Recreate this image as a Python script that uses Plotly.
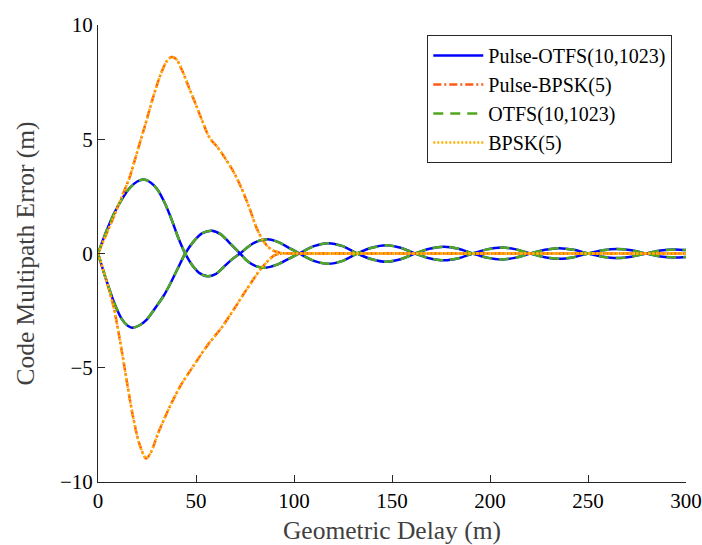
import plotly.graph_objects as go

# Geometric delay samples (m) and code multipath error (m) for each receiver model
otfs_delay_pos = [0, 4, 8, 12, 16, 20, 23.5, 27, 30.5, 34, 37.5, 41, 44.5, 48, 52, 56, 60, 64, 68,
                  72.5, 77, 81, 86.5, 92, 97, 102.7, 110.1, 117.45, 124.8, 132.2, 139.6, 147, 154.4,
                  161.8, 169.1, 176.5, 183.9, 191.2, 198.5, 205.9, 213.2, 220.6, 228, 235.35, 242.7,
                  250.1, 257.5, 264.85, 272.2, 279.6, 287, 294.35, 300]
pulse_otfs_pos = [0, 0.92, 1.72, 2.35, 2.85, 3.15, 3.24, 3.1, 2.78, 2.22, 1.5, 0.68, 0, -0.5, -0.87,
                  -1.0, -0.9, -0.6, -0.28, 0, 0.32, 0.52, 0.62, 0.5, 0.27, 0, -0.32, -0.45, -0.32, 0,
                  0.25, 0.36, 0.25, 0, -0.21, -0.3, -0.21, 0, 0.18, 0.26, 0.18, 0, -0.16, -0.23, -0.16,
                  0, 0.14, 0.2, 0.14, 0, -0.13, -0.18, -0.15]
otfs_delay_neg = [0, 4, 8, 12, 15, 17.5, 21, 25, 29.5, 33.5, 37, 41, 44.5, 48.5, 53, 58, 62.5, 67,
                  72.5, 76.5, 80.5, 85.5, 91, 96.5, 102.7, 110.1, 117.45, 124.8, 132.2, 139.6, 147,
                  154.4, 161.8, 169.1, 176.5, 183.9, 191.2, 198.5, 205.9, 213.2, 220.6, 228, 235.35,
                  242.7, 250.1, 257.5, 264.85, 272.2, 279.6, 287, 294.35, 300]
pulse_otfs_neg = [0, -1.1, -2.1, -2.85, -3.15, -3.25, -3.15, -2.88, -2.35, -1.85, -1.3, -0.6, 0, 0.5,
                  0.88, 1.0, 0.85, 0.48, 0, -0.35, -0.55, -0.62, -0.5, -0.27, 0, 0.32, 0.45, 0.32, 0,
                  -0.25, -0.36, -0.25, 0, 0.21, 0.3, 0.21, 0, -0.18, -0.26, -0.18, 0, 0.16, 0.23, 0.16,
                  0, -0.14, -0.2, -0.14, 0, 0.13, 0.18, 0.15]
otfs_pos = [0, 0.92, 1.72, 2.35, 2.85, 3.15, 3.24, 3.1, 2.78, 2.22, 1.5, 0.68, 0, -0.5, -0.87,
            -1.0, -0.9, -0.6, -0.28, 0, 0.32, 0.52, 0.62, 0.5, 0.27, 0, -0.32, -0.45, -0.32, 0,
            0.25, 0.36, 0.25, 0, -0.21, -0.3, -0.21, 0, 0.18, 0.26, 0.18, 0, -0.16, -0.23, -0.16,
            0, 0.14, 0.2, 0.14, 0, -0.13, -0.18, -0.15]
otfs_neg = [0, -1.1, -2.1, -2.85, -3.15, -3.25, -3.15, -2.88, -2.35, -1.85, -1.3, -0.6, 0, 0.5,
            0.88, 1.0, 0.85, 0.48, 0, -0.35, -0.55, -0.62, -0.5, -0.27, 0, 0.32, 0.45, 0.32, 0,
            -0.25, -0.36, -0.25, 0, 0.21, 0.3, 0.21, 0, -0.18, -0.26, -0.18, 0, 0.16, 0.23, 0.16,
            0, -0.14, -0.2, -0.14, 0, 0.13, 0.18, 0.15]

bpsk_delay_pos = [0, 4, 8, 12, 16, 20, 24, 28, 32, 35, 37.5, 40, 43, 46, 50, 53, 57, 61, 65, 69, 73,
                  77, 81, 84, 87, 90, 94, 100, 150, 200, 250, 300]
pulse_bpsk_pos = [0, 0.8, 1.6, 2.45, 3.3, 4.45, 5.6, 6.8, 7.85, 8.4, 8.6, 8.5, 8.0, 7.35, 6.5, 5.85,
                  5.05, 4.65, 4.15, 3.6, 2.9, 2.05, 1.1, 0.6, 0.27, 0.1, 0.02, 0, 0, 0, 0, 0]
bpsk_delay_neg = [0, 4, 8, 12, 15, 18, 21, 24.5, 27, 30.5, 34, 37.5, 42, 49, 56, 63, 69.5, 76, 83,
                  87, 90, 94, 100, 150, 200, 250, 300]
pulse_bpsk_neg = [0, -1.1, -2.35, -4.2, -5.75, -7.2, -8.3, -8.97, -8.7, -7.9, -7.2, -6.55, -5.8,
                  -4.88, -4.0, -3.25, -2.42, -1.55, -0.68, -0.3, -0.08, 0, 0, 0, 0, 0, 0]
bpsk_pos = [0, 0.8, 1.6, 2.45, 3.3, 4.45, 5.6, 6.8, 7.85, 8.4, 8.6, 8.5, 8.0, 7.35, 6.5, 5.85,
            5.05, 4.65, 4.15, 3.6, 2.9, 2.05, 1.1, 0.6, 0.27, 0.1, 0.02, 0, 0, 0, 0, 0]
bpsk_neg = [0, -1.1, -2.35, -4.2, -5.75, -7.2, -8.3, -8.97, -8.7, -7.9, -7.2, -6.55, -5.8,
            -4.88, -4.0, -3.25, -2.42, -1.55, -0.68, -0.3, -0.08, 0, 0, 0, 0, 0, 0]

series_names = ["Pulse-OTFS(10,1023)", "Pulse-BPSK(5)", "OTFS(10,1023)", "BPSK(5)"]
x_ticks = [0, 50, 100, 150, 200, 250, 300]
y_ticks = [-10, -5, 0, 5, 10]

SERIF = "'Liberation Serif', 'Times New Roman', serif"


def envelope(xp, yp, xn, yn):
    # positive and negative multipath branches joined with a gap
    return list(xp) + [None] + list(xn), list(yp) + [None] + list(yn)


styles = [
    dict(color="#0000FF", width=2.5, dash="solid"),
    dict(color="#FF5A14", width=2.5, dash="8px,3px,2px,3px"),
    dict(color="#4FA81E", width=2.5, dash="10px,7px"),
    dict(color="#FFB000", width=2.5, dash="2px,2px"),
]
curves = [
    envelope(otfs_delay_pos, pulse_otfs_pos, otfs_delay_neg, pulse_otfs_neg),
    envelope(bpsk_delay_pos, pulse_bpsk_pos, bpsk_delay_neg, pulse_bpsk_neg),
    envelope(otfs_delay_pos, otfs_pos, otfs_delay_neg, otfs_neg),
    envelope(bpsk_delay_pos, bpsk_pos, bpsk_delay_neg, bpsk_neg),
]

fig = go.Figure()
for name, (xs, ys), st in zip(series_names, curves, styles):
    fig.add_trace(go.Scatter(x=xs, y=ys, mode="lines", name=name,
                             line=dict(shape="spline", smoothing=0.8, **st)))

fig.update_layout(
    width=702, height=545,
    margin=dict(l=97.5, r=16, t=25, b=62.5, autoexpand=False),
    paper_bgcolor="white", plot_bgcolor="white",
    font=dict(family=SERIF, size=21, color="#000000"),
    showlegend=True,
    legend=dict(
        x=0.56, y=0.978, xanchor="left", yanchor="top",
        bgcolor="white", bordercolor="#262626", borderwidth=1,
        font=dict(family=SERIF, size=20, color="#000000"),
        itemwidth=50, tracegroupgap=0,
    ),
)
fig.update_xaxes(
    range=[0, 300], tickvals=x_ticks, ticks="inside", ticklen=7, tickwidth=1,
    tickcolor="#262626", showline=True, linecolor="#262626", linewidth=1, mirror=False,
    showgrid=False, zeroline=False, automargin=False,
    tickfont=dict(family=SERIF, size=21, color="#000000"),
    title=dict(text="Geometric Delay (m)", font=dict(family=SERIF, size=25.5, color="#404040"),
               standoff=8),
)
fig.update_yaxes(
    range=[-10, 10], tickvals=y_ticks, ticks="inside", ticklen=7, tickwidth=1,
    tickcolor="#262626", showline=True, linecolor="#262626", linewidth=1, mirror=False,
    showgrid=False, zeroline=False, automargin=False,
    tickfont=dict(family=SERIF, size=21, color="#000000"),
    title=dict(text="Code Multipath Error (m)", font=dict(family=SERIF, size=25.5, color="#404040"),
               standoff=18),
)

fig.write_html("out.html")
